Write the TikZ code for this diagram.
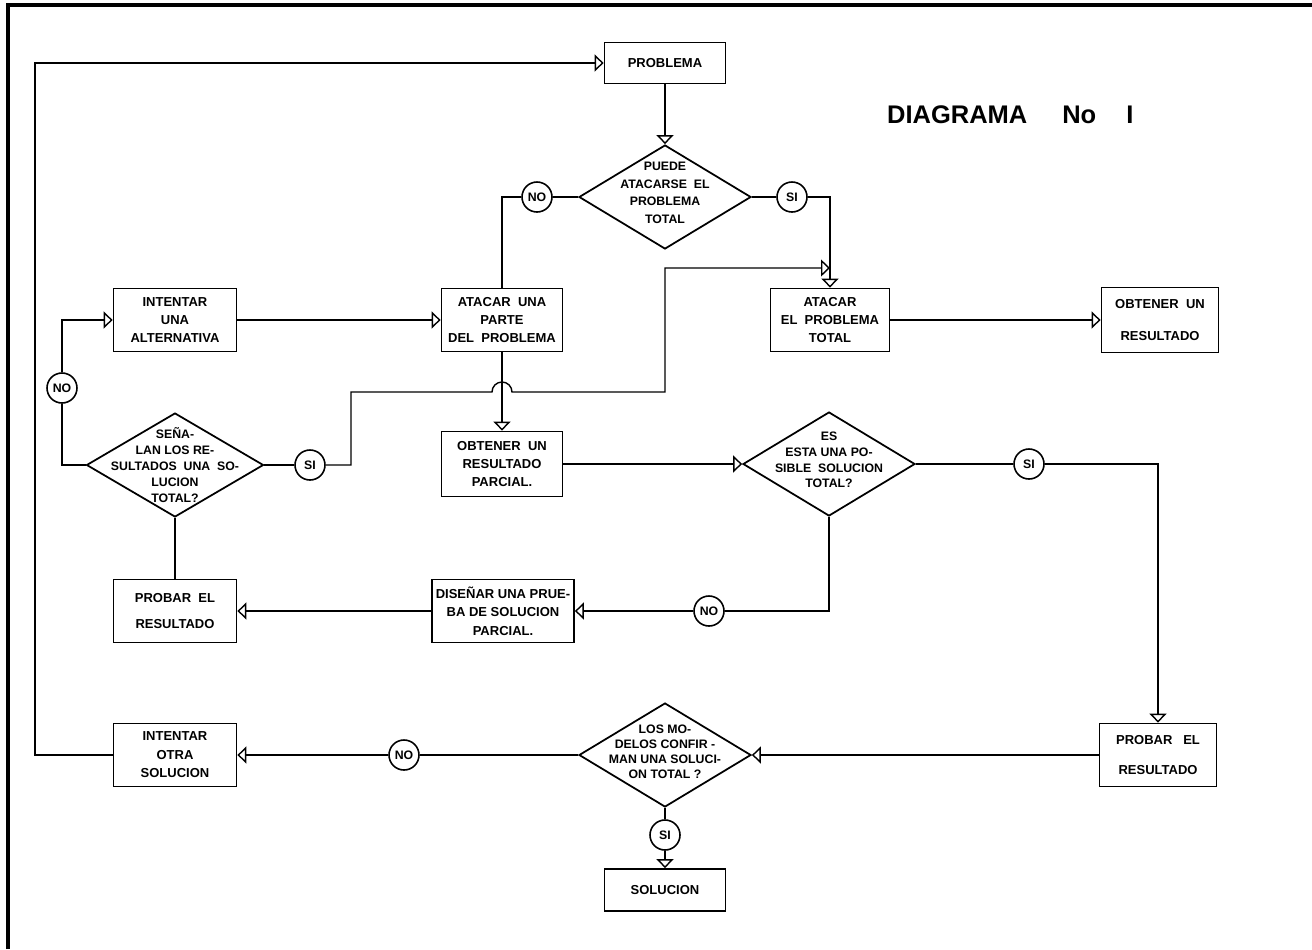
\documentclass[tikz,border=0pt]{standalone}
\usepackage{fontspec}
\setmainfont{Liberation Sans}
\usetikzlibrary{arrows.meta,shapes.geometric,calc}

\tikzset{
  caja/.style={draw, line width=1pt, minimum width=24.2mm, minimum height=12.6mm,
    inner sep=1pt, align=center, font=\bfseries\fontsize{7.4}{10.5}\selectfont},
  rombo/.style={draw, diamond, line width=1pt, minimum width=34.4mm,
    minimum height=20.8mm, inner sep=0pt},
  rtexto/.style={align=center, font=\bfseries\fontsize{7}{9}\selectfont},
  resp/.style={draw, circle, line width=0.9pt, minimum size=6mm, inner sep=0pt,
    font=\bfseries\fontsize{7}{7}\selectfont},
  linea/.style={line width=0.8pt},
  flecha/.style={linea, -{Triangle[open,length=1.8mm,width=3.4mm]}},
}

\begin{document}
\begin{tikzpicture}[x=0.2mm, y=-0.2mm]
  \useasboundingbox (0,0) rectangle (1312,949);
  \draw[line width=1.8pt] (8,949) -- (8,5) -- (1312,5);

  \node[font=\bfseries\fontsize{14.5}{15}\selectfont, anchor=west] (titulo)
    at (881,115) {DIAGRAMA\hspace{7mm}No\hspace{6mm}I};

  % cajas
  \node[caja, minimum height=8.2mm] (problema) at (665,63) {PROBLEMA};
  \node[caja] (parte) at (502,320) {ATACAR~~UNA\\PARTE\\DEL~~PROBLEMA};
  \node[caja, minimum width=24.6mm] (alter) at (175,320) {INTENTAR\\UNA\\ALTERNATIVA};
  \node[caja, minimum width=23.8mm] (total) at (830,320) {ATACAR\\EL~~PROBLEMA\\TOTAL};
  \node[caja, minimum width=23.4mm, minimum height=13mm] (resul) at (1160,320)
    {OBTENER~~UN\\[8pt]RESULTADO};
  \node[caja, minimum height=13mm] (parcial) at (502,464)
    {OBTENER~~UN\\RESULTADO\\PARCIAL.};
  \node[caja, minimum width=28.4mm] (disena) at (503,611)
    {DISEÑAR UNA PRUE-\\BA DE SOLUCION\\PARCIAL.};
  \node[caja, minimum width=24.6mm] (probarA) at (175,611) {PROBAR~~EL\\[4pt]RESULTADO};
  \node[caja, minimum width=23.4mm] (probarB) at (1158,755) {PROBAR~~~EL\\[7pt]RESULTADO};
  \node[caja, minimum width=24.6mm] (otra) at (175,755) {INTENTAR\\OTRA\\SOLUCION};
  \node[caja, minimum height=8.4mm] (solucion) at (665,890) {SOLUCION};

  % rombos
  \node[rombo] (puede) at (665,197) {};
  \node[rtexto, font=\bfseries\fontsize{7}{10}\selectfont, yshift=0.8mm] (puedeT)
    at (puede) {PUEDE\\ATACARSE~~EL\\PROBLEMA\\TOTAL};
  \node[rombo, minimum width=35.4mm] (senal) at (175,465) {};
  \node[rtexto] (senalT) at (senal) {SEÑA-\\LAN LOS RE-\\SULTADOS~~UNA~~SO-\\LUCION\\TOTAL?};
  \node[rombo] (esta) at (829,464) {};
  \node[rtexto, yshift=0.8mm] (estaT) at (esta) {ES\\ESTA UNA PO-\\SIBLE~~SOLUCION\\TOTAL?};
  \node[rombo] (modelos) at (665,755) {};
  \node[rtexto, font=\bfseries\fontsize{7}{8.6}\selectfont, yshift=0.6mm] (modelosT)
    at (modelos) {LOS MO-\\DELOS CONFIR -\\MAN UNA SOLUCI-\\ON TOTAL ?};

  \foreach \n/\x/\y/\t in {noA/537/197/NO, siA/792/197/SI, noB/62/388/NO,
      siB/310/465/SI, siC/1029/464/SI, noC/709/611/NO, noD/404/755/NO, siD/665/835/SI}
    \node[resp] (\n) at (\x,\y) {\t};

  \coordinate (esqA) at (35,755);
  \coordinate (codoA) at (351,392);
  \coordinate (salto) at (parte.south |- codoA);
  \coordinate (codoB) at (665,392);
  \coordinate (junta) at (total.north |- 0,268);

  \draw[flecha] (otra.west) -- (esqA) |- (problema.west);
  \draw[flecha] (problema) -- (puede);
  \draw[linea] (puede.west) -- (noA);
  \draw[linea] (noA) -| (parte.north);
  \draw[linea] (puede.east) -- (siA);
  \draw[flecha] (siA) -| (total.north);
  \draw[flecha] (total) -- (resul);
  \draw[flecha] (alter) -- (parte);
  \draw[flecha] (parte) -- (parcial);
  \draw[flecha] (parcial) -- (esta);
  \draw[linea] (esta.east) -- (siC);
  \draw[flecha] (siC) -| (probarB.north);
  \draw[linea] (esta.south) |- (noC);
  \draw[flecha] (noC) -- (disena);
  \draw[flecha] (disena) -- (probarA);
  \draw[linea] (probarA) -- (senal);
  \draw[linea] (senal.east) -- (siB);
  \draw[flecha] (siB) -| (codoA) -- ($(salto)+(-10,0)$)
    arc[start angle=180, end angle=360, radius=10] -- (codoB) |- (junta);
  \draw[linea] (senal.west) -| (noB);
  \draw[flecha] (noB) |- (alter.west);
  \draw[flecha] (probarB) -- (modelos);
  \draw[linea] (modelos.west) -- (noD);
  \draw[flecha] (noD) -- (otra);
  \draw[linea] (modelos.south) -- (siD);
  \draw[flecha] (siD) -- (solucion);
\end{tikzpicture}
\end{document}
